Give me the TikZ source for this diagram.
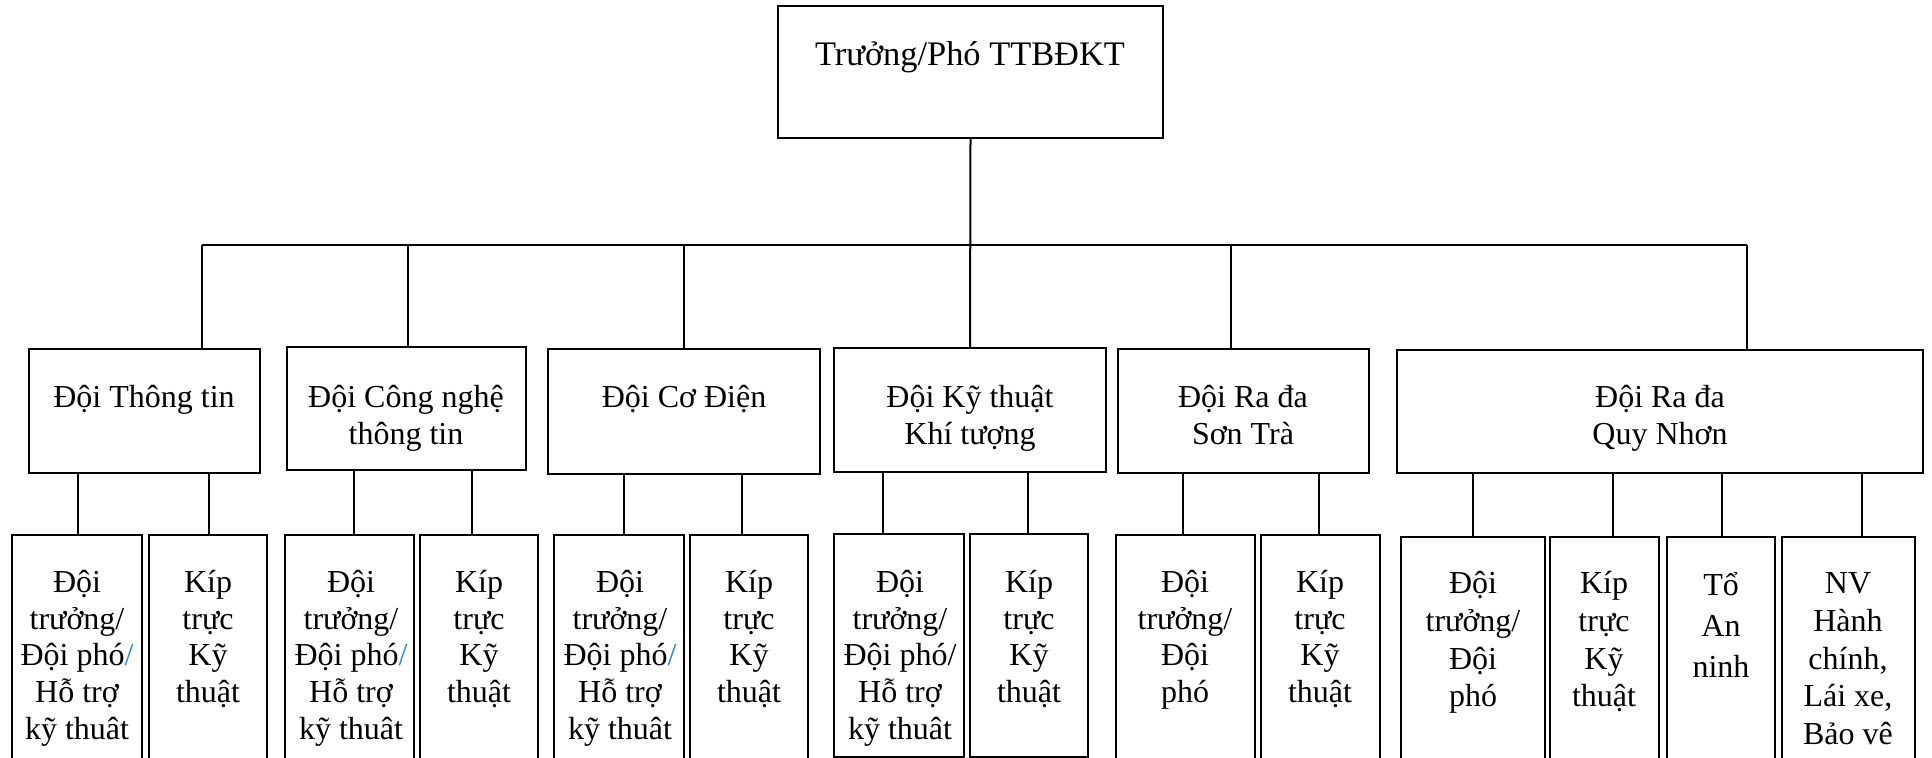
\documentclass[tikz,border=0pt]{standalone}
\usepackage{fontspec}
\setmainfont{Liberation Serif}
\usetikzlibrary{fit}
\definecolor{slashblue}{RGB}{40,130,210}
% strut that fixes the height of a label's first line
\newcommand{\tp}{\rule{0pt}{16pt}}
\begin{document}
\begin{tikzpicture}[x=0.5pt,y=-0.5pt,
  box/.style={draw, line width=1pt, inner sep=0pt},
  lbl/.style={anchor=north, inner sep=0pt, align=center,
    font=\fontsize{16}{18.35}\selectfont},
  wide/.style={font=\fontsize{16}{18.9}\selectfont},
  link/.style={line width=1pt}]
\useasboundingbox (0,0) rectangle (1932,758);

% ---- boxes ----
\node[box, fit={(778,6) (1163,138)}] (top) {};
\foreach \n/\xa/\ya/\xb/\yb in {
    M1/29/349/260/473, M2/287/347/526/470, M3/548/349/820/474,
    M4/834/348/1106/472, M5/1118/349/1369/473, M6/1397/350/1923/473,
    B1/12/535/142/800, B2/149/535/267/800,
    B3/285/535/414/800, B4/420/535/538/800,
    B5/554/535/684/800, B6/690/535/808/800,
    B7/834/534/964/757, B8/970/534/1088/757,
    B9/1116/535/1255/800, B10/1261/535/1380/800,
    B11/1401/537/1545/800, B12/1550/537/1659/800,
    B13/1667/537/1775/800, B14/1782/537/1915/800}
  \node[box, fit={(\xa,\ya) (\xb,\yb)}] (\n) {};

% ---- labels ----
\node[lbl, font=\fontsize{17.2}{19}\selectfont] (topt) at (970,33) {\tp Trưởng/Phó TTBĐKT};

\node[lbl] (M1t) at (144,375) {\tp Đội Thông tin};
\node[lbl] (M2t) at (406,375) {\tp Đội Công nghệ\\thông tin};
\node[lbl] (M3t) at (684,375) {\tp Đội Cơ Điện};
\node[lbl] (M4t) at (970,375) {\tp Đội Kỹ thuật\\Khí tượng};
\node[lbl] (M5t) at (1243,375) {\tp Đội Ra đa\\Sơn Trà};
\node[lbl] (M6t) at (1660,375) {\tp Đội Ra đa\\Quy Nhơn};

\node[lbl] (B1t) at (77,560) {\tp Đội\\trưởng/\\Đội phó{\color{slashblue}/}\\Hỗ trợ\\kỹ thuât};
\node[lbl] (B2t) at (208,560) {\tp Kíp\\trực\\Kỹ\\thuật};
\node[lbl] (B3t) at (351,560) {\tp Đội\\trưởng/\\Đội phó{\color{slashblue}/}\\Hỗ trợ\\kỹ thuât};
\node[lbl] (B4t) at (479,560) {\tp Kíp\\trực\\Kỹ\\thuật};
\node[lbl] (B5t) at (620,560) {\tp Đội\\trưởng/\\Đội phó{\color{slashblue}/}\\Hỗ trợ\\kỹ thuât};
\node[lbl] (B6t) at (749,560) {\tp Kíp\\trực\\Kỹ\\thuật};
\node[lbl] (B7t) at (900,560) {\tp Đội\\trưởng/\\Đội phó/\\Hỗ trợ\\kỹ thuât};
\node[lbl] (B8t) at (1029,560) {\tp Kíp\\trực\\Kỹ\\thuật};
\node[lbl] (B9t) at (1185,560) {\tp Đội\\trưởng/\\Đội\\phó};
\node[lbl] (B10t) at (1320,560) {\tp Kíp\\trực\\Kỹ\\thuật};
\node[lbl, wide] (B11t) at (1473,561) {\tp Đội\\trưởng/\\Đội\\phó};
\node[lbl, wide] (B12t) at (1604,561) {\tp Kíp\\trực\\Kỹ\\thuật};
\node[lbl, font=\fontsize{16}{20.5}\selectfont] (B13t) at (1721,563) {\tp Tổ\\An\\ninh};
\node[lbl, wide] (B14t) at (1848,561) {\tp NV\\Hành\\chính,\\Lái xe,\\Bảo vê};

% ---- connectors ----
\draw[link] (top.south) -- (M4.north);
\coordinate (busL) at (202,245);
\coordinate (busR) at (1747,245);
\draw[link] (busL) -- (busR);
\foreach \m/\x in {M1/202, M2/408, M3/684, M5/1231, M6/1747} {
  \coordinate (drop) at (\x,245);
  \draw[link] (drop) -- (drop |- \m.north);
}
\foreach \m/\b/\x in {M1/B1/78, M1/B2/209, M2/B3/354, M2/B4/472,
    M3/B5/624, M3/B6/742, M4/B7/883, M4/B8/1028,
    M5/B9/1183, M5/B10/1319,
    M6/B11/1473, M6/B12/1613, M6/B13/1722, M6/B14/1862} {
  \coordinate (tap) at (\x,500);
  \draw[link] (tap |- \m.south) -- (tap |- \b.north);
}
\end{tikzpicture}
\end{document}
